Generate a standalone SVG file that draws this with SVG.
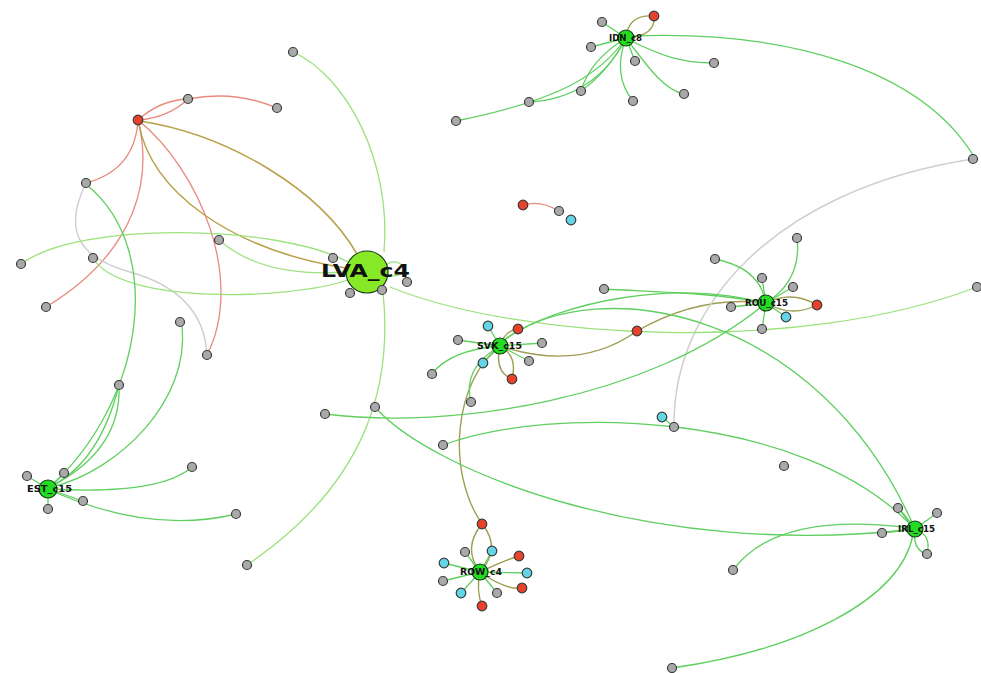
<svg xmlns="http://www.w3.org/2000/svg" width="981" height="673" viewBox="0 0 981 673">
<style>
.e{fill:none;stroke-width:1.3}
.rd{stroke:#e8897b}
.ol{stroke:#b9a04a;stroke-width:1.5}
.o2{stroke:#9f9d52;stroke-width:1.4}
.gy{stroke:#cfcfcf;stroke-width:1.5}
.lg{stroke:#9be27d}
.gn{stroke:#5fcf5f}
.ng{fill:#a9a9a9;stroke:#3a3a3a;stroke-width:1.2}
.nr{fill:#e8432a;stroke:#3a3a3a;stroke-width:1.2}
.nc{fill:#62d6e6;stroke:#3a3a3a;stroke-width:1.2}
.nm{fill:#22dd22;stroke:#1a3a1a;stroke-width:1.2}
.lb{font-family:"DejaVu Sans","Liberation Sans",sans-serif;font-weight:bold;fill:#111;text-anchor:middle}
</style>
<rect width="981" height="673" fill="#fff"/>
<g id="connectors">
<path class="e rd" d="M138,120 Q160,100 188,99"/>
<path class="e rd" d="M138,120 Q168,118 188,99"/>
<path class="e rd" d="M188,99 Q235,90 277,108"/>
<path class="e rd" d="M138,120 Q135,170 86,183"/>
<path class="e rd" d="M138,120 C152,175 140,250 46,307"/>
<path class="e rd" d="M138,120 C200,170 245,280 207,355"/>
<path class="e rd" d="M523,205 Q540,200 559,211"/>
<path class="e ol" d="M140,121 C230,135 320,190 357,254"/>
<path class="e ol" d="M139,124 C150,190 230,250 346,268"/>
<path class="e o2" d="M500,346 Q580,372 637,331"/>
<path class="e o2" d="M637,331 Q700,295 766,303"/>
<path class="e o2" d="M766,303 Q792,290 817,305"/>
<path class="e o2" d="M766,303 Q792,318 817,305"/>
<path class="e o2" d="M500,346 C455,380 445,470 482,524"/>
<path class="e o2" d="M482,524 Q462,548 480,572"/>
<path class="e o2" d="M482,524 Q502,548 480,572"/>
<path class="e o2" d="M626,38 Q628,14 654,16"/>
<path class="e o2" d="M626,38 Q656,36 654,16"/>
<path class="e o2" d="M500,346 Q494,372 512,379"/>
<path class="e o2" d="M500,346 Q518,356 512,379"/>
<path class="e o2" d="M500,346 Q505,330 518,329"/>
<path class="e o2" d="M480,572 Q505,560 519,556"/>
<path class="e o2" d="M480,572 Q505,590 522,588"/>
<path class="e o2" d="M480,572 Q476,590 482,606"/>
<path class="e gy" d="M86,183 C62,232 80,258 130,272 S205,315 207,355"/>
<path class="e gy" d="M674,427 C672,310 770,190 973,159"/>
<path class="e lg" d="M293,52 C345,75 392,160 384,252"/>
<path class="e lg" d="M21,264 C80,220 280,225 348,262"/>
<path class="e lg" d="M93,258 C120,305 290,300 348,280"/>
<path class="e lg" d="M219,240 Q262,278 347,272"/>
<path class="e lg" d="M383,292 C392,380 372,480 247,565"/>
<path class="e lg" d="M390,287 C520,340 800,355 977,287"/>
<path class="e lg" d="M386,266 a9,7 0 1,1 2,8"/>
<path class="e gn" d="M325,414 C450,430 650,400 766,303"/>
<path class="e gn" d="M375,407 C430,470 650,560 915,529"/>
<path class="e gn" d="M504,340 C560,300 680,280 760,302"/>
<path class="e gn" d="M504,340 C600,270 820,310 915,529"/>
<path class="e gn" d="M443,445 C550,405 800,410 912,526"/>
<path class="e gn" d="M604,289 C650,292 710,292 766,303"/>
<path class="e gn" d="M500,346 L488,326 M500,346 L458,340 M500,346 L542,343 M500,346 L483,363 M500,346 L529,361"/>
<path class="e gn" d="M500,346 Q450,350 432,374"/>
<path class="e gn" d="M500,346 Q462,368 471,402"/>
<path class="e gn" d="M766,303 Q802,280 797,238"/>
<path class="e gn" d="M715,259 Q760,268 766,303"/>
<path class="e gn" d="M766,303 L762,278 M766,303 L793,287 M766,303 L731,307 M766,303 L786,317 M766,303 L762,329 M662,417 L674,427"/>
<path class="e gn" d="M626,38 L602,22 M626,38 L591,47 M626,38 L635,61"/>
<path class="e gn" d="M626,38 Q612,75 633,101"/>
<path class="e gn" d="M626,38 Q590,60 581,91"/>
<path class="e gn" d="M626,38 Q608,72 581,91"/>
<path class="e gn" d="M626,38 C600,75 560,100 456,121"/>
<path class="e gn" d="M626,38 C605,80 570,100 529,102"/>
<path class="e gn" d="M629,40 C660,55 680,63 714,63"/>
<path class="e gn" d="M629,42 C650,70 665,90 684,94"/>
<path class="e gn" d="M632,36 C790,30 920,70 973,155"/>
<path class="e gn" d="M88,186 C165,250 145,400 50,487"/>
<path class="e gn" d="M119,385 Q122,450 50,487"/>
<path class="e gn" d="M119,385 Q100,462 50,487"/>
<path class="e gn" d="M182,326 C190,400 120,470 52,487"/>
<path class="e gn" d="M50,489 Q160,495 192,467"/>
<path class="e gn" d="M50,490 Q150,535 236,514"/>
<path class="e gn" d="M48,489 L27,476 M48,489 L64,473 M48,489 L83,501 M48,489 L48,509"/>
<path class="e gn" d="M915,529 L898,508 M915,529 Q903,512 898,508 M915,529 L937,513 M915,529 L882,533"/>
<path class="e gn" d="M915,529 Q912,550 927,554 M915,529 Q932,535 927,554"/>
<path class="e gn" d="M733,570 C770,520 850,520 912,528"/>
<path class="e gn" d="M672,668 C800,650 900,600 913,535"/>
<path class="e gn" d="M480,572 L465,552 M480,572 L492,551 M480,572 L444,563 M480,572 L527,573 M480,572 L443,581 M480,572 L461,593 M480,572 L497,593"/>
</g>
<g id="n-g1"><circle class="ng" cx="293" cy="52" r="4.5"/></g>
<g id="n-g2"><circle class="ng" cx="188" cy="99" r="4.5"/></g>
<g id="n-g3"><circle class="ng" cx="277" cy="108" r="4.5"/></g>
<g id="n-g4"><circle class="ng" cx="86" cy="183" r="4.5"/></g>
<g id="n-g5"><circle class="ng" cx="602" cy="22" r="4.5"/></g>
<g id="n-g6"><circle class="ng" cx="591" cy="47" r="4.5"/></g>
<g id="n-g7"><circle class="ng" cx="635" cy="61" r="4.5"/></g>
<g id="n-g8"><circle class="ng" cx="581" cy="91" r="4.5"/></g>
<g id="n-g9"><circle class="ng" cx="529" cy="102" r="4.5"/></g>
<g id="n-g10"><circle class="ng" cx="633" cy="101" r="4.5"/></g>
<g id="n-g11"><circle class="ng" cx="456" cy="121" r="4.5"/></g>
<g id="n-g12"><circle class="ng" cx="559" cy="211" r="4.5"/></g>
<g id="n-g13"><circle class="ng" cx="714" cy="63" r="4.5"/></g>
<g id="n-g14"><circle class="ng" cx="684" cy="94" r="4.5"/></g>
<g id="n-g15"><circle class="ng" cx="973" cy="159" r="4.5"/></g>
<g id="n-g16"><circle class="ng" cx="21" cy="264" r="4.5"/></g>
<g id="n-g17"><circle class="ng" cx="93" cy="258" r="4.5"/></g>
<g id="n-g18"><circle class="ng" cx="219" cy="240" r="4.5"/></g>
<g id="n-g19"><circle class="ng" cx="46" cy="307" r="4.5"/></g>
<g id="n-g20"><circle class="ng" cx="180" cy="322" r="4.5"/></g>
<g id="n-g21"><circle class="ng" cx="207" cy="355" r="4.5"/></g>
<g id="n-g22"><circle class="ng" cx="119" cy="385" r="4.5"/></g>
<g id="n-g23"><circle class="ng" cx="325" cy="414" r="4.5"/></g>
<g id="n-g28"><circle class="ng" cx="604" cy="289" r="4.5"/></g>
<g id="n-g29"><circle class="ng" cx="458" cy="340" r="4.5"/></g>
<g id="n-g30"><circle class="ng" cx="542" cy="343" r="4.5"/></g>
<g id="n-g31"><circle class="ng" cx="529" cy="361" r="4.5"/></g>
<g id="n-g32"><circle class="ng" cx="432" cy="374" r="4.5"/></g>
<g id="n-g33"><circle class="ng" cx="471" cy="402" r="4.5"/></g>
<g id="n-g34"><circle class="ng" cx="375" cy="407" r="4.5"/></g>
<g id="n-g35"><circle class="ng" cx="443" cy="445" r="4.5"/></g>
<g id="n-g36"><circle class="ng" cx="797" cy="238" r="4.5"/></g>
<g id="n-g37"><circle class="ng" cx="715" cy="259" r="4.5"/></g>
<g id="n-g38"><circle class="ng" cx="762" cy="278" r="4.5"/></g>
<g id="n-g39"><circle class="ng" cx="793" cy="287" r="4.5"/></g>
<g id="n-g40"><circle class="ng" cx="731" cy="307" r="4.5"/></g>
<g id="n-g41"><circle class="ng" cx="762" cy="329" r="4.5"/></g>
<g id="n-g42"><circle class="ng" cx="977" cy="287" r="4.5"/></g>
<g id="n-g43"><circle class="ng" cx="674" cy="427" r="4.5"/></g>
<g id="n-g44"><circle class="ng" cx="27" cy="476" r="4.5"/></g>
<g id="n-g45"><circle class="ng" cx="64" cy="473" r="4.5"/></g>
<g id="n-g46"><circle class="ng" cx="83" cy="501" r="4.5"/></g>
<g id="n-g47"><circle class="ng" cx="48" cy="509" r="4.5"/></g>
<g id="n-g48"><circle class="ng" cx="192" cy="467" r="4.5"/></g>
<g id="n-g49"><circle class="ng" cx="236" cy="514" r="4.5"/></g>
<g id="n-g50"><circle class="ng" cx="247" cy="565" r="4.5"/></g>
<g id="n-g51"><circle class="ng" cx="465" cy="552" r="4.5"/></g>
<g id="n-g52"><circle class="ng" cx="443" cy="581" r="4.5"/></g>
<g id="n-g53"><circle class="ng" cx="497" cy="593" r="4.5"/></g>
<g id="n-g54"><circle class="ng" cx="784" cy="466" r="4.5"/></g>
<g id="n-g55"><circle class="ng" cx="898" cy="508" r="4.5"/></g>
<g id="n-g56"><circle class="ng" cx="937" cy="513" r="4.5"/></g>
<g id="n-g57"><circle class="ng" cx="882" cy="533" r="4.5"/></g>
<g id="n-g58"><circle class="ng" cx="927" cy="554" r="4.5"/></g>
<g id="n-g59"><circle class="ng" cx="733" cy="570" r="4.5"/></g>
<g id="n-g60"><circle class="ng" cx="672" cy="668" r="4.5"/></g>
<g id="n-r1"><circle class="nr" cx="138" cy="120" r="4.8"/></g>
<g id="n-r2"><circle class="nr" cx="654" cy="16" r="4.8"/></g>
<g id="n-r3"><circle class="nr" cx="523" cy="205" r="4.8"/></g>
<g id="n-r4"><circle class="nr" cx="518" cy="329" r="4.8"/></g>
<g id="n-r5"><circle class="nr" cx="637" cy="331" r="4.8"/></g>
<g id="n-r6"><circle class="nr" cx="512" cy="379" r="4.8"/></g>
<g id="n-r7"><circle class="nr" cx="817" cy="305" r="4.8"/></g>
<g id="n-r8"><circle class="nr" cx="482" cy="524" r="4.8"/></g>
<g id="n-r9"><circle class="nr" cx="519" cy="556" r="4.8"/></g>
<g id="n-r10"><circle class="nr" cx="522" cy="588" r="4.8"/></g>
<g id="n-r11"><circle class="nr" cx="482" cy="606" r="4.8"/></g>
<g id="n-c1"><circle class="nc" cx="571" cy="220" r="4.8"/></g>
<g id="n-c2"><circle class="nc" cx="488" cy="326" r="4.8"/></g>
<g id="n-c3"><circle class="nc" cx="483" cy="363" r="4.8"/></g>
<g id="n-c4"><circle class="nc" cx="786" cy="317" r="4.8"/></g>
<g id="n-c5"><circle class="nc" cx="662" cy="417" r="4.8"/></g>
<g id="n-c6"><circle class="nc" cx="492" cy="551" r="4.8"/></g>
<g id="n-c7"><circle class="nc" cx="444" cy="563" r="4.8"/></g>
<g id="n-c8"><circle class="nc" cx="527" cy="573" r="4.8"/></g>
<g id="n-c9"><circle class="nc" cx="461" cy="593" r="4.8"/></g>
<g id="n-LVA"><circle cx="367" cy="272" r="21" fill="#86e826" stroke="#1a3a1a" stroke-width="1.2"/><text class="lb" x="365.5" y="277" font-size="17" textLength="89" lengthAdjust="spacingAndGlyphs">LVA_c4</text></g>
<g id="n-g24"><circle class="ng" cx="333" cy="258" r="4.5"/></g>
<g id="n-g25"><circle class="ng" cx="407" cy="282" r="4.5"/></g>
<g id="n-g26"><circle class="ng" cx="382" cy="290" r="4.5"/></g>
<g id="n-g27"><circle class="ng" cx="350" cy="293" r="4.5"/></g>
<g id="n-IDN"><circle class="nm" cx="626" cy="38" r="8"/><text class="lb" x="625.5" y="41" font-size="8" textLength="33" lengthAdjust="spacingAndGlyphs">IDN_c8</text></g>
<g id="n-SVK"><circle class="nm" cx="500" cy="346" r="8"/><text class="lb" x="499.5" y="349" font-size="8" textLength="45" lengthAdjust="spacingAndGlyphs">SVK_c15</text></g>
<g id="n-ROU"><circle class="nm" cx="766" cy="303" r="8"/><text class="lb" x="766.5" y="306" font-size="8" textLength="43" lengthAdjust="spacingAndGlyphs">ROU_c15</text></g>
<g id="n-EST"><circle class="nm" cx="48" cy="489" r="9"/><text class="lb" x="49.5" y="492" font-size="8" textLength="45" lengthAdjust="spacingAndGlyphs">EST_c15</text></g>
<g id="n-ROW"><circle class="nm" cx="480" cy="572" r="8"/><text class="lb" x="481" y="575" font-size="8" textLength="42" lengthAdjust="spacingAndGlyphs">ROW_c4</text></g>
<g id="n-IRL"><circle class="nm" cx="915" cy="529" r="8"/><text class="lb" x="916.5" y="532" font-size="8" textLength="37" lengthAdjust="spacingAndGlyphs">IRL_c15</text></g>
</svg>
